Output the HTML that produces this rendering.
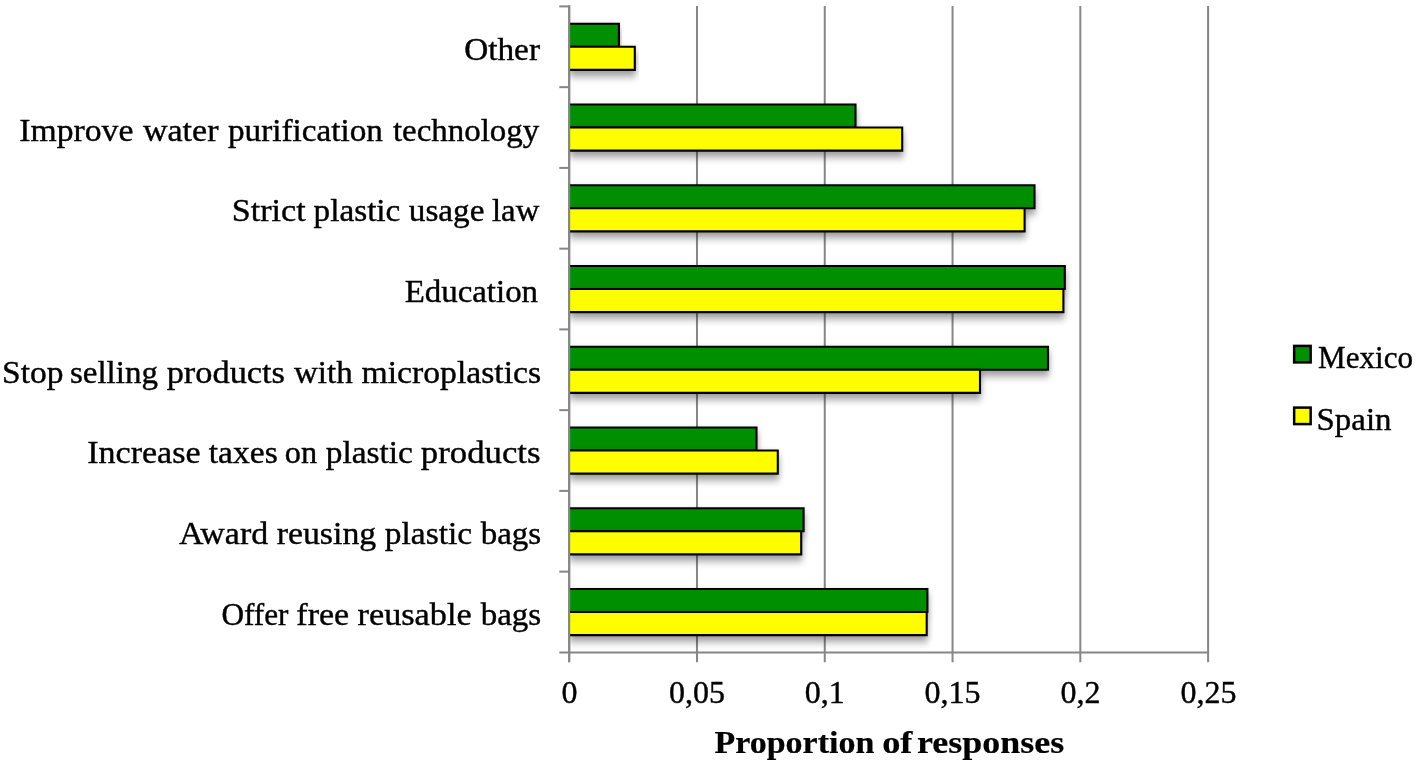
<!DOCTYPE html>
<html lang="en"><head><meta charset="utf-8"><title>Proportion of responses</title>
<style>
html,body{margin:0;padding:0;background:#fff;}
body{width:1417px;height:765px;overflow:hidden;}
svg{display:block;}
text{font-family:"Liberation Serif","DejaVu Serif",serif;font-size:32px;fill:#000;stroke:#000;stroke-width:0.4px;}
.b{font-weight:bold;stroke-width:0.2px;}
</style></head><body>
<svg width="1417" height="765" viewBox="0 0 1417 765">
<defs><filter id="sh" x="-5%" y="-50%" width="110%" height="250%"><feGaussianBlur in="SourceAlpha" stdDeviation="3 4.2"/><feOffset dx="0" dy="5"/><feComponentTransfer><feFuncA type="linear" slope="0.42"/></feComponentTransfer><feMerge><feMergeNode/><feMergeNode in="SourceGraphic"/></feMerge></filter></defs>
<rect width="1417" height="765" fill="#fff"/>

<g stroke="#868686" stroke-width="2.0" fill="none">
<line x1="569.20" y1="5.40" x2="569.20" y2="662.20"/>
<line x1="696.98" y1="5.90" x2="696.98" y2="662.20"/>
<line x1="824.76" y1="5.90" x2="824.76" y2="662.20"/>
<line x1="952.54" y1="5.90" x2="952.54" y2="662.20"/>
<line x1="1080.32" y1="5.90" x2="1080.32" y2="662.20"/>
<line x1="1208.10" y1="5.90" x2="1208.10" y2="662.20"/>
<line x1="559.3" y1="652.40" x2="1209.10" y2="652.40"/>
<line x1="559.3" y1="6.40" x2="569.20" y2="6.40"/>
<line x1="559.3" y1="87.15" x2="569.20" y2="87.15"/>
<line x1="559.3" y1="167.90" x2="569.20" y2="167.90"/>
<line x1="559.3" y1="248.65" x2="569.20" y2="248.65"/>
<line x1="559.3" y1="329.40" x2="569.20" y2="329.40"/>
<line x1="559.3" y1="410.15" x2="569.20" y2="410.15"/>
<line x1="559.3" y1="490.90" x2="569.20" y2="490.90"/>
<line x1="559.3" y1="571.65" x2="569.20" y2="571.65"/>
</g>
<clipPath id="cp"><rect x="568.30" y="0" width="900" height="652.40"/></clipPath><g clip-path="url(#cp)">
<path d="M569.80 23.70H618.90V46.78H569.80" fill="#008f00" stroke="#000" stroke-width="2.1" filter="url(#sh)"/>
<path d="M569.80 46.78H634.80V69.85H569.80" fill="#fffd00" stroke="#000" stroke-width="2.1" filter="url(#sh)"/>
<path d="M569.80 104.45H855.50V127.53H569.80" fill="#008f00" stroke="#000" stroke-width="2.1" filter="url(#sh)"/>
<path d="M569.80 127.53H902.20V150.60H569.80" fill="#fffd00" stroke="#000" stroke-width="2.1" filter="url(#sh)"/>
<path d="M569.80 185.20H1034.50V208.28H569.80" fill="#008f00" stroke="#000" stroke-width="2.1" filter="url(#sh)"/>
<path d="M569.80 208.28H1024.60V231.35H569.80" fill="#fffd00" stroke="#000" stroke-width="2.1" filter="url(#sh)"/>
<path d="M569.80 265.95H1064.80V289.02H569.80" fill="#008f00" stroke="#000" stroke-width="2.1" filter="url(#sh)"/>
<path d="M569.80 289.02H1063.40V312.10H569.80" fill="#fffd00" stroke="#000" stroke-width="2.1" filter="url(#sh)"/>
<path d="M569.80 346.70H1048.00V369.77H569.80" fill="#008f00" stroke="#000" stroke-width="2.1" filter="url(#sh)"/>
<path d="M569.80 369.77H980.00V392.85H569.80" fill="#fffd00" stroke="#000" stroke-width="2.1" filter="url(#sh)"/>
<path d="M569.80 427.45H756.50V450.52H569.80" fill="#008f00" stroke="#000" stroke-width="2.1" filter="url(#sh)"/>
<path d="M569.80 450.52H777.80V473.60H569.80" fill="#fffd00" stroke="#000" stroke-width="2.1" filter="url(#sh)"/>
<path d="M569.80 508.20H803.60V531.27H569.80" fill="#008f00" stroke="#000" stroke-width="2.1" filter="url(#sh)"/>
<path d="M569.80 531.27H801.20V554.35H569.80" fill="#fffd00" stroke="#000" stroke-width="2.1" filter="url(#sh)"/>
<path d="M569.80 588.95H927.40V612.02H569.80" fill="#008f00" stroke="#000" stroke-width="2.1" filter="url(#sh)"/>
<path d="M569.80 612.02H926.70V635.10H569.80" fill="#fffd00" stroke="#000" stroke-width="2.1" filter="url(#sh)"/>
</g>
<line x1="569.20" y1="5.40" x2="569.20" y2="662.20" stroke="#868686" stroke-width="2.0"/>
<text id="c0" y="59.8"><tspan x="464.16" textLength="75.81" lengthAdjust="spacingAndGlyphs">Other</tspan></text>
<text id="c1" y="140.5"><tspan x="19.35" textLength="114.00" lengthAdjust="spacingAndGlyphs">Improve</tspan> <tspan x="142.91" textLength="75.55" lengthAdjust="spacingAndGlyphs">water</tspan> <tspan x="227.99" textLength="155.00" lengthAdjust="spacingAndGlyphs">purification</tspan> <tspan x="392.90" textLength="146.39" lengthAdjust="spacingAndGlyphs">technology</tspan></text>
<text id="c2" y="221.0"><tspan x="231.78" textLength="73.85" lengthAdjust="spacingAndGlyphs">Strict</tspan> <tspan x="313.59" textLength="86.78" lengthAdjust="spacingAndGlyphs">plastic</tspan> <tspan x="408.79" textLength="75.60" lengthAdjust="spacingAndGlyphs">usage</tspan> <tspan x="491.99" textLength="47.31" lengthAdjust="spacingAndGlyphs">law</tspan></text>
<text id="c3" y="301.7"><tspan x="404.68" textLength="133.36" lengthAdjust="spacingAndGlyphs">Education</tspan></text>
<text id="c4" y="382.5"><tspan x="2.01" textLength="61.43" lengthAdjust="spacingAndGlyphs">Stop</tspan> <tspan x="69.97" textLength="87.98" lengthAdjust="spacingAndGlyphs">selling</tspan> <tspan x="166.68" textLength="118.30" lengthAdjust="spacingAndGlyphs">products</tspan> <tspan x="294.01" textLength="58.69" lengthAdjust="spacingAndGlyphs">with</tspan> <tspan x="361.47" textLength="179.70" lengthAdjust="spacingAndGlyphs">microplastics</tspan></text>
<text id="c5" y="463.4"><tspan x="87.24" textLength="113.30" lengthAdjust="spacingAndGlyphs">Increase</tspan> <tspan x="208.80" textLength="68.90" lengthAdjust="spacingAndGlyphs">taxes</tspan> <tspan x="284.89" textLength="32.31" lengthAdjust="spacingAndGlyphs">on</tspan> <tspan x="325.69" textLength="87.18" lengthAdjust="spacingAndGlyphs">plastic</tspan> <tspan x="420.87" textLength="119.61" lengthAdjust="spacingAndGlyphs">products</tspan></text>
<text id="c6" y="544.4"><tspan x="178.99" textLength="89.15" lengthAdjust="spacingAndGlyphs">Award</tspan> <tspan x="276.68" textLength="99.55" lengthAdjust="spacingAndGlyphs">reusing</tspan> <tspan x="384.79" textLength="87.28" lengthAdjust="spacingAndGlyphs">plastic</tspan> <tspan x="480.71" textLength="60.48" lengthAdjust="spacingAndGlyphs">bags</tspan></text>
<text id="c7" y="624.7"><tspan x="221.53" textLength="66.97" lengthAdjust="spacingAndGlyphs">Offer</tspan> <tspan x="296.35" textLength="52.83" lengthAdjust="spacingAndGlyphs">free</tspan> <tspan x="357.57" textLength="114.10" lengthAdjust="spacingAndGlyphs">reusable</tspan> <tspan x="480.71" textLength="60.48" lengthAdjust="spacingAndGlyphs">bags</tspan></text>
<text id="x0" x="569.5" y="703.4" text-anchor="middle">0</text>
<text id="x1" x="697.0" y="703.4" text-anchor="middle">0,05</text>
<text id="x2" x="824.7" y="703.4" text-anchor="middle">0,1</text>
<text id="x3" x="952.5" y="703.4" text-anchor="middle">0,15</text>
<text id="x4" x="1080.5" y="703.4" text-anchor="middle">0,2</text>
<text id="x5" x="1208.4" y="703.4" text-anchor="middle">0,25</text>
<text id="ti" class="b" y="752.9"><tspan x="714.48" textLength="159.85" lengthAdjust="spacingAndGlyphs">Proportion</tspan> <tspan x="882.16" textLength="30.32" lengthAdjust="spacingAndGlyphs">of</tspan> <tspan x="917.01" textLength="147.14" lengthAdjust="spacingAndGlyphs">responses</tspan></text>
<rect x="1294.15" y="345.9" width="16.5" height="16.5" fill="#008f00" stroke="#000" stroke-width="2.5"/>
<rect x="1294.15" y="407.6" width="16.5" height="16.5" fill="#fffd00" stroke="#000" stroke-width="2.5"/>
<text id="l0" y="367.6"><tspan x="1318.02" textLength="95.00" lengthAdjust="spacingAndGlyphs">Mexico</tspan></text>
<text id="l1" y="429.5"><tspan x="1316.55" textLength="74.95" lengthAdjust="spacingAndGlyphs">Spain</tspan></text>
</svg></body></html>
